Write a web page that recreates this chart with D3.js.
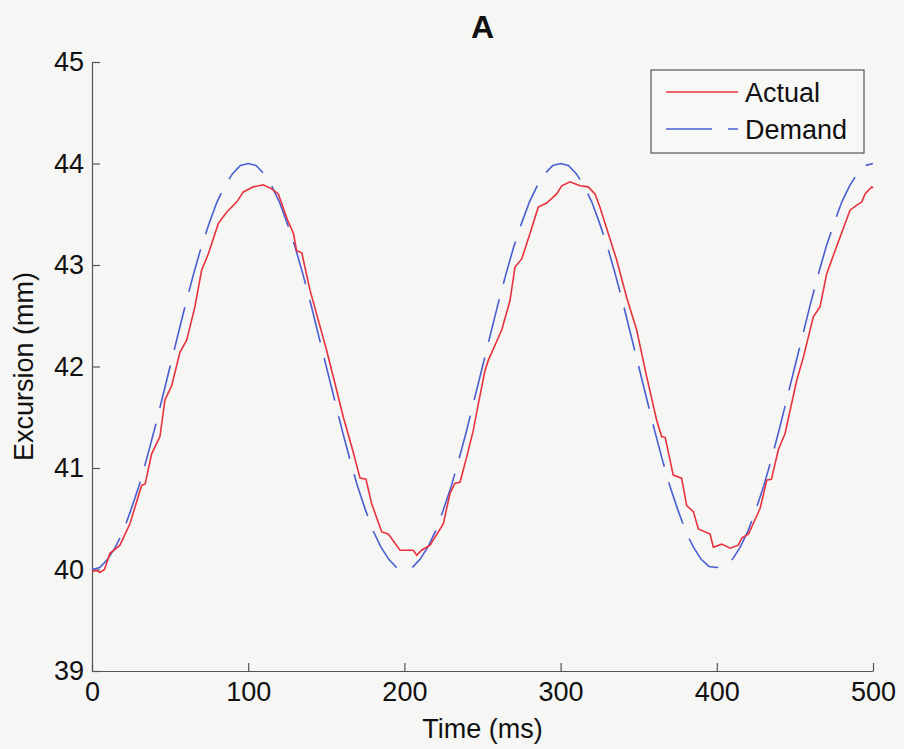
<!DOCTYPE html>
<html>
<head>
<meta charset="utf-8">
<script src="https://cdn.jsdelivr.net/npm/d3@7"></script>
<style>
  body { margin: 0; background: #f6f6f4; }
  svg { display: block; font-family: "Liberation Sans", Arial, sans-serif; }
</style>
</head>
<body>
<script>
// demand trace, sampled every 5 ms
const demandTime = d3.range(0, 501, 5);
const demandValue = [
  40.00, 40.02, 40.10, 40.22, 40.38, 40.59, 40.82, 41.09, 41.38, 41.69, 42.00,
  42.31, 42.62, 42.91, 43.18, 43.41, 43.62, 43.78, 43.90, 43.98, 44.00,
  43.98, 43.90, 43.78, 43.62, 43.41, 43.18, 42.91, 42.62, 42.31, 42.00,
  41.69, 41.38, 41.09, 40.82, 40.59, 40.38, 40.22, 40.10, 40.02, 40.00,
  40.02, 40.10, 40.22, 40.38, 40.59, 40.82, 41.09, 41.38, 41.69, 42.00,
  42.31, 42.62, 42.91, 43.18, 43.41, 43.62, 43.78, 43.90, 43.98, 44.00,
  43.98, 43.90, 43.78, 43.62, 43.41, 43.18, 42.91, 42.62, 42.31, 42.00,
  41.69, 41.38, 41.09, 40.82, 40.59, 40.38, 40.22, 40.10, 40.03, 40.02,
  40.03, 40.10, 40.22, 40.38, 40.59, 40.82, 41.09, 41.38, 41.69, 42.00,
  42.31, 42.62, 42.91, 43.18, 43.41, 43.62, 43.78, 43.90, 43.98, 44.00
];

const actualTime = [
  0, 3, 5, 8, 11.5, 17.9, 24.3, 31.8, 34, 38.2, 43.5, 46.7, 51, 56.3, 60.6, 65.9,
  70.2, 74.5, 80.9, 86.2, 92.6, 96.9, 103.3, 109.7, 115, 119.3, 125, 129, 131, 134.3,
  139.6, 150.2, 155.6, 160.9, 166.3, 171.6, 175.4, 179, 185.5, 189.7, 197.2, 205.7,
  207.9, 211, 216.4, 224.9, 229.2, 232.4, 235.6, 239.9, 244.1, 247.3, 251.6, 253.7,
  262.3, 267.6, 270.8, 275.1, 280.4, 285.7, 291.1, 297.5, 300.7, 306, 312.4, 317.7,
  322, 325.2, 335.9, 342.3, 348.7, 355.1, 361.5, 364.7, 367, 372.1, 377.5, 380.7,
  385, 388.2, 395.7, 397.8, 403.2, 408.5, 413.8, 416, 420.3, 427.7, 432, 435,
  439.4, 443.7, 451.1, 455.4, 461.8, 466.1, 470.3, 475.7, 485.3, 489.6, 492.8,
  494.9, 499.2, 500
];
const actualValue = [
  39.98, 39.99, 39.97, 40.00, 40.16, 40.24, 40.45, 40.83, 40.84, 41.14, 41.31, 41.67, 41.81, 42.14, 42.26, 42.59,
  42.95, 43.11, 43.41, 43.52, 43.62, 43.72, 43.77, 43.79, 43.75, 43.70, 43.45, 43.31, 43.14, 43.12,
  42.75, 42.16, 41.83, 41.50, 41.21, 40.90, 40.89, 40.65, 40.37, 40.35, 40.19, 40.19,
  40.14, 40.19, 40.24, 40.45, 40.75, 40.85, 40.86, 41.11, 41.37, 41.63, 41.96, 42.06,
  42.36, 42.65, 42.98, 43.06, 43.31, 43.57, 43.61, 43.70, 43.78, 43.82, 43.78, 43.77,
  43.70, 43.57, 43.05, 42.68, 42.36, 41.90, 41.47, 41.31, 41.30, 40.93, 40.90, 40.63,
  40.57, 40.40, 40.35, 40.22, 40.25, 40.21, 40.24, 40.31, 40.35, 40.60, 40.88, 40.89,
  41.18, 41.34, 41.86, 42.09, 42.49, 42.59, 42.91, 43.14, 43.54, 43.59, 43.62,
  43.70, 43.77, 43.76
];

const xTicks = [0, 100, 200, 300, 400, 500];
const yTicks = [39, 40, 41, 42, 43, 44, 45];
const seriesNames = ["Actual", "Demand"];
const seriesColors = ["#e8323c", "#4a5ed2"];

const width = 904, height = 749;
const margin = {top: 62, right: 31, bottom: 78, left: 92};

const svg = d3.select("body").append("svg")
    .attr("width", width)
    .attr("height", height);

const x = d3.scaleLinear().domain([0, 500]).range([margin.left, width - margin.right]);
const y = d3.scaleLinear().domain([39, 45]).range([height - margin.bottom, margin.top]);

// axes (ticks point inward, no box)
const xAxis = svg.append("g")
    .attr("transform", "translate(0," + y(39) + ")")
    .call(d3.axisBottom(x).tickValues(xTicks).tickFormat(d3.format("d"))
      .tickSizeInner(-8).tickSizeOuter(0).tickPadding(11));

const yAxis = svg.append("g")
    .attr("transform", "translate(" + x(0) + ",0)")
    .call(d3.axisLeft(y).tickValues(yTicks).tickFormat(d3.format("d"))
      .tickSizeInner(-8).tickSizeOuter(0).tickPadding(8));

[xAxis, yAxis].forEach(g => {
  g.select(".domain").attr("stroke", "#555").attr("stroke-width", 1.2);
  g.selectAll(".tick line").attr("stroke", "#555").attr("stroke-width", 1.2);
  g.selectAll(".tick text").attr("fill", "#111").style("font-size", "27px");
});

// lines
const line = d3.line()
    .x(d => x(d[0]))
    .y(d => y(d[1]));

svg.append("path")
    .datum(demandTime.map((t, i) => [t, demandValue[i]]))
    .attr("fill", "none")
    .attr("stroke", seriesColors[1])
    .attr("stroke-width", 1.6)
    .attr("stroke-dasharray", "44,16")
    .attr("d", line);

svg.append("path")
    .datum(actualTime.map((t, i) => [t, actualValue[i]]))
    .attr("fill", "none")
    .attr("stroke", seriesColors[0])
    .attr("stroke-width", 1.6)
    .attr("d", line);

// title and labels
svg.append("text")
    .attr("x", (x(0) + x(500)) / 2)
    .attr("y", 38)
    .attr("text-anchor", "middle")
    .style("font-size", "32px")
    .style("font-weight", "bold")
    .attr("fill", "#111")
    .text("A");

svg.append("text")
    .attr("x", (x(0) + x(500)) / 2)
    .attr("y", 738)
    .attr("text-anchor", "middle")
    .style("font-size", "27px")
    .attr("fill", "#111")
    .text("Time (ms)");

svg.append("text")
    .attr("transform", "translate(33," + y(42) + ") rotate(-90)")
    .attr("text-anchor", "middle")
    .style("font-size", "27px")
    .attr("fill", "#111")
    .text("Excursion (mm)");

// legend
const legend = svg.append("g").attr("transform", "translate(651,70)");

legend.append("rect")
    .attr("width", 213)
    .attr("height", 83)
    .attr("fill", "#f8f8f6")
    .attr("stroke", "#555")
    .attr("stroke-width", 1.2);

seriesNames.forEach((name, i) => {
  const row = legend.append("g").attr("transform", "translate(0," + (22 + i * 37) + ")");
  row.append("line")
      .attr("x1", 15).attr("x2", 87)
      .attr("stroke", seriesColors[i])
      .attr("stroke-width", 1.6)
      .attr("stroke-dasharray", i === 1 ? "46,16" : null);
  row.append("text")
      .attr("x", 94)
      .attr("dy", "0.36em")
      .style("font-size", "27px")
      .attr("fill", "#111")
      .text(name);
});
</script>
</body>
</html>
